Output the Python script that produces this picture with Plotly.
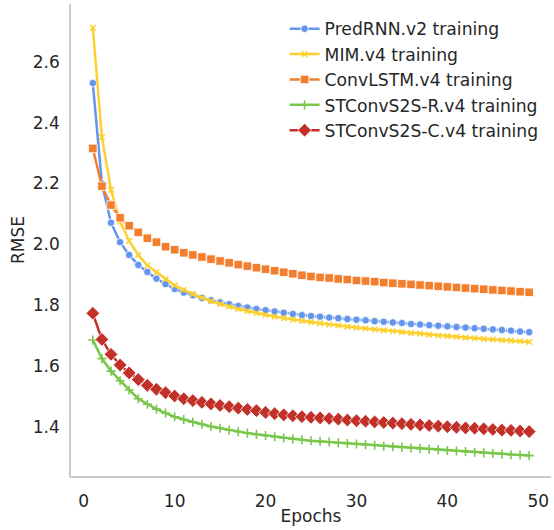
import plotly.graph_objects as go

epochs = list(range(1, 50))

predrnn_v2 = [2.530, 2.200, 2.071, 2.007, 1.965, 1.932, 1.909, 1.887, 1.869, 1.853,
              1.841, 1.832, 1.823, 1.816, 1.809, 1.803, 1.797, 1.792, 1.787, 1.783,
              1.779, 1.775, 1.771, 1.767, 1.764, 1.762, 1.759, 1.757, 1.754, 1.752,
              1.750, 1.747, 1.745, 1.743, 1.741, 1.738, 1.736, 1.734, 1.732, 1.730,
              1.728, 1.726, 1.724, 1.722, 1.720, 1.718, 1.716, 1.713, 1.711]

mim_v4 = [2.712, 2.352, 2.179, 2.074, 2.011, 1.965, 1.930, 1.908, 1.885, 1.865,
          1.850, 1.836, 1.824, 1.813, 1.803, 1.795, 1.787, 1.780, 1.774, 1.768,
          1.762, 1.757, 1.752, 1.748, 1.744, 1.740, 1.736, 1.733, 1.729, 1.726,
          1.723, 1.720, 1.717, 1.714, 1.711, 1.708, 1.706, 1.703, 1.700, 1.698,
          1.696, 1.693, 1.691, 1.689, 1.687, 1.685, 1.683, 1.681, 1.679]

convlstm_v4 = [2.315, 2.191, 2.129, 2.087, 2.061, 2.039, 2.020, 2.007, 1.992, 1.982,
               1.972, 1.965, 1.958, 1.951, 1.945, 1.939, 1.933, 1.928, 1.923, 1.918,
               1.913, 1.908, 1.903, 1.898, 1.894, 1.891, 1.889, 1.886, 1.884, 1.881,
               1.879, 1.877, 1.874, 1.872, 1.870, 1.868, 1.866, 1.864, 1.862, 1.860,
               1.858, 1.856, 1.854, 1.852, 1.850, 1.848, 1.846, 1.844, 1.842]

stconvs2s_r_v4 = [1.685, 1.624, 1.583, 1.551, 1.521, 1.492, 1.474, 1.458, 1.445, 1.433,
                  1.424, 1.415, 1.408, 1.401, 1.395, 1.389, 1.384, 1.379, 1.375, 1.371,
                  1.367, 1.363, 1.360, 1.357, 1.354, 1.352, 1.350, 1.347, 1.345, 1.343,
                  1.341, 1.339, 1.336, 1.334, 1.332, 1.330, 1.328, 1.326, 1.324, 1.322,
                  1.320, 1.318, 1.316, 1.314, 1.312, 1.310, 1.308, 1.307, 1.305]

stconvs2s_c_v4 = [1.773, 1.687, 1.638, 1.603, 1.577, 1.555, 1.536, 1.523, 1.512, 1.501,
                  1.492, 1.486, 1.480, 1.475, 1.470, 1.466, 1.461, 1.457, 1.453, 1.447,
                  1.443, 1.439, 1.436, 1.433, 1.431, 1.429, 1.427, 1.425, 1.422, 1.420,
                  1.418, 1.416, 1.414, 1.412, 1.410, 1.408, 1.406, 1.404, 1.402, 1.400,
                  1.398, 1.396, 1.395, 1.393, 1.391, 1.389, 1.388, 1.386, 1.384]

# (label, values, colour, marker symbol, marker size, stroked-only marker)
series = [
    ("PredRNN.v2 training", predrnn_v2, "#6495ED", "circle", 7.5, False),
    ("MIM.v4 training", mim_v4, "#FCD12F", "x-thin", 5.5, True),
    ("ConvLSTM.v4 training", convlstm_v4, "#F37F2E", "square", 8.5, False),
    ("STConvS2S-R.v4 training", stconvs2s_r_v4, "#78C74A", "cross-thin", 6.5, True),
    ("STConvS2S-C.v4 training", stconvs2s_c_v4, "#C2302A", "diamond", 10.5, False),
]

font_family = "DejaVu Sans"
text_color = "#262626"

fig = go.Figure()
for name, values, color, symbol, size, thin in series:
    if thin:
        marker = dict(symbol=symbol, size=size, color=color,
                      line=dict(color=color, width=1.6))
    else:
        marker = dict(symbol=symbol, size=size, color=color,
                      line=dict(color="white", width=0.8))
    fig.add_trace(go.Scatter(
        x=epochs, y=values, name=name, mode="lines+markers",
        line=dict(color=color, width=2.5), marker=marker,
    ))

fig.update_layout(
    width=554, height=530,
    margin=dict(l=71, r=3, t=4, b=54),
    paper_bgcolor="white", plot_bgcolor="white",
    font=dict(family=font_family, size=16, color=text_color),
    showlegend=True,
    legend=dict(
        x=0.445, y=0.985, xanchor="left", yanchor="top",
        bgcolor="rgba(0,0,0,0)", borderwidth=0,
        font=dict(family=font_family, size=17.2, color=text_color),
        itemwidth=30,
    ),
)

fig.update_xaxes(
    range=[-1.4, 51.4], tickvals=[0, 10, 20, 30, 40, 50],
    showgrid=False, zeroline=False, showline=True,
    linecolor="#cccccc", linewidth=1.5, ticks="",
    ticklabelstandoff=9,
    tickfont=dict(size=17),
    title=dict(text="Epochs", font=dict(size=17), standoff=0),
)
fig.update_yaxes(
    range=[1.238, 2.79], tickvals=[1.4, 1.6, 1.8, 2.0, 2.2, 2.4, 2.6],
    ticktext=["1.4", "1.6", "1.8", "2.0", "2.2", "2.4", "2.6"],
    showgrid=False, zeroline=False, showline=True,
    linecolor="#cccccc", linewidth=1.5, ticks="",
    ticklabelstandoff=6,
    tickfont=dict(size=17),
    title=dict(text="RMSE", font=dict(size=17), standoff=4),
)

fig.write_html("out.html")
